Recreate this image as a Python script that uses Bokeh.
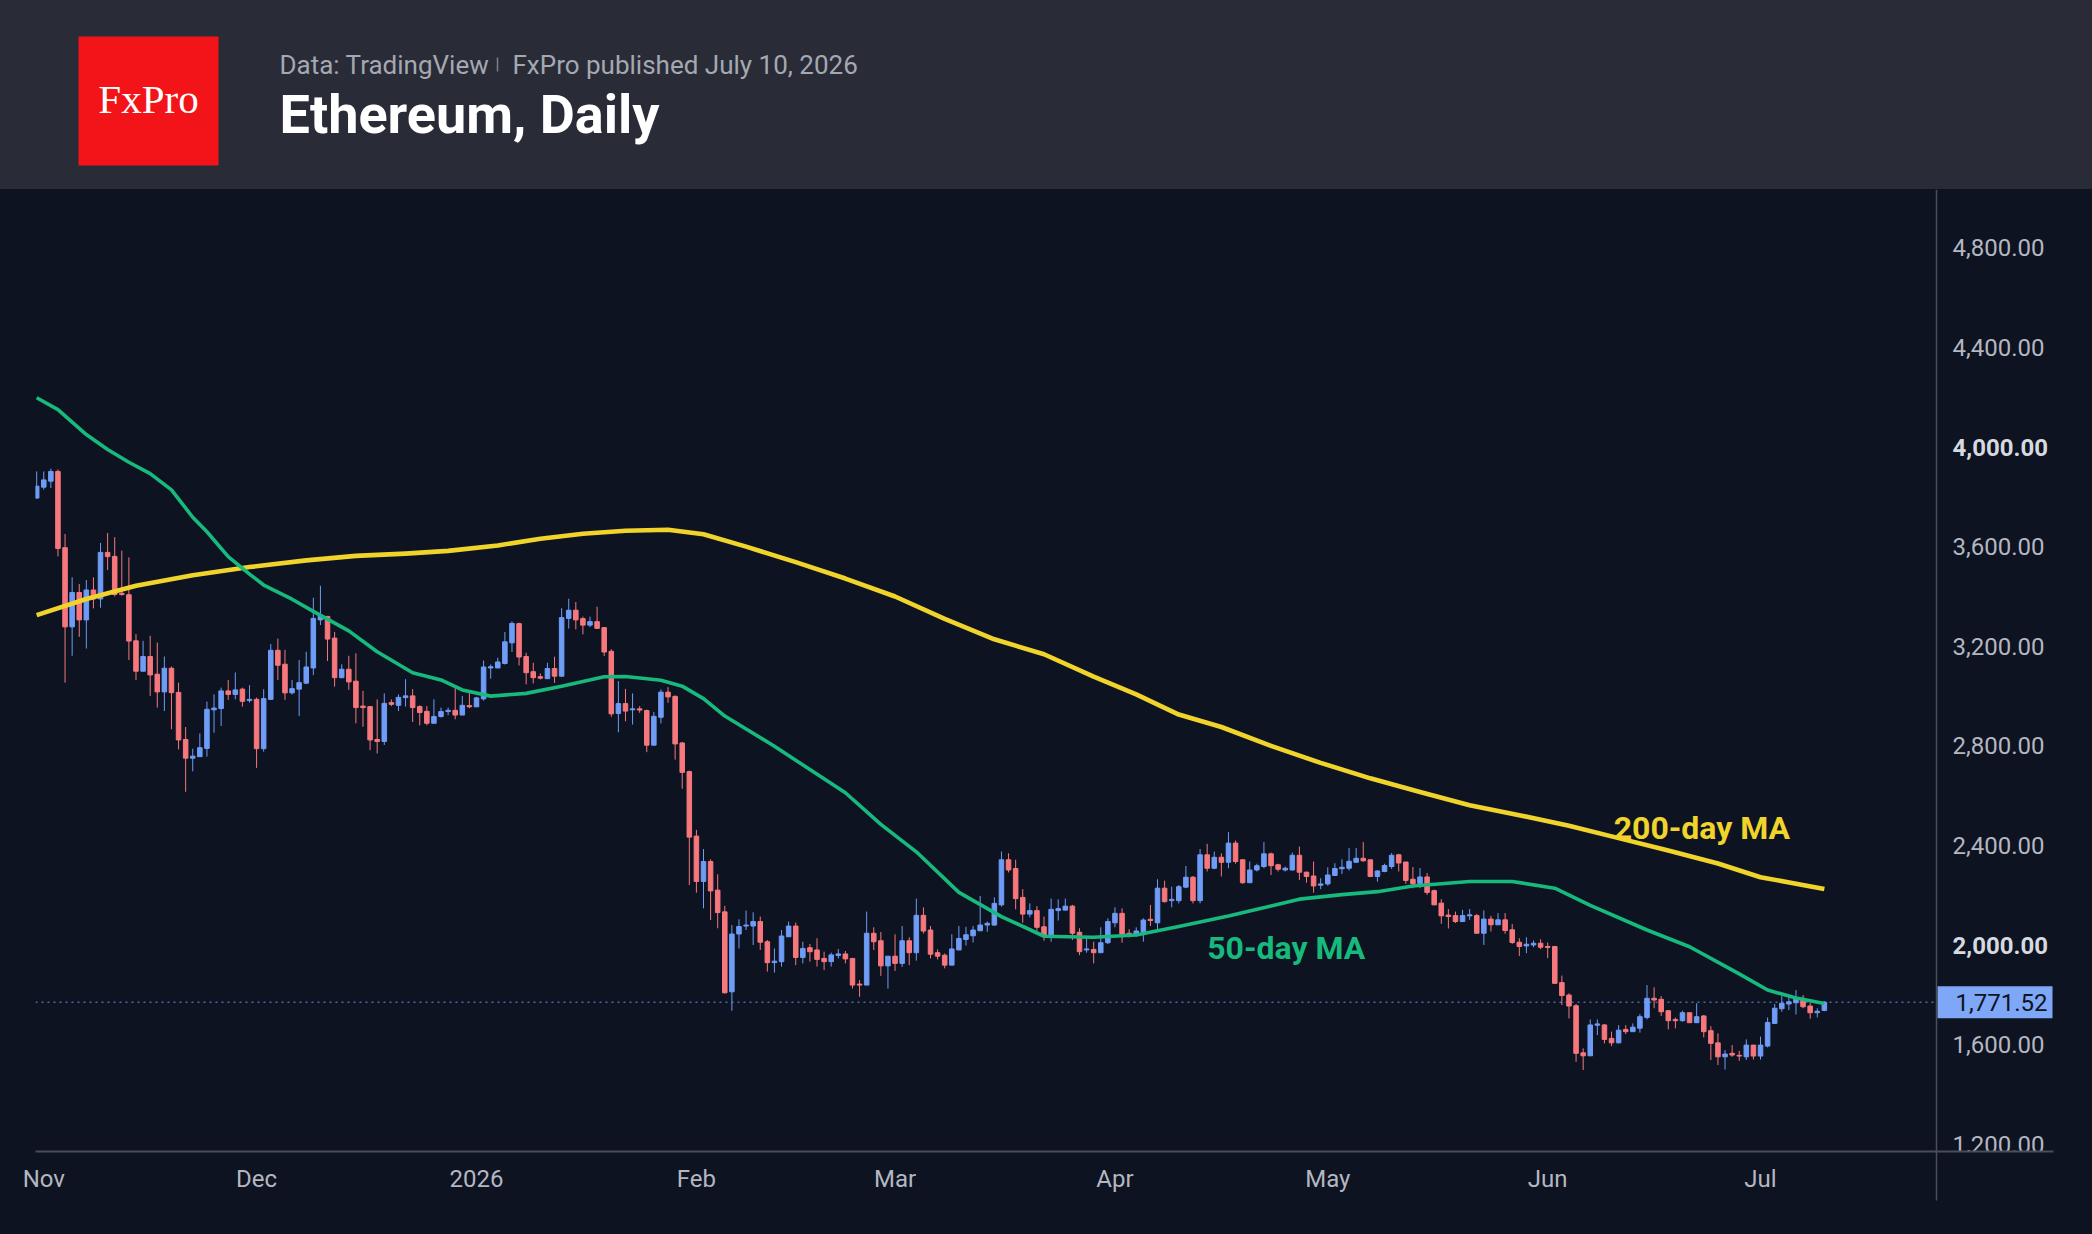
import numpy as np
import pandas as pd
from bokeh.plotting import figure
from bokeh.layouts import column
from bokeh.models import Range1d, FixedTicker, Span, ColumnDataSource
from bokeh.core.properties import value
from bokeh.embed import file_html
from bokeh.resources import INLINE

# ---------------- data ----------------
first_day = "2025-10-31"

opens = [
    3795, 3839, 3863, 3902, 3596, 3278, 3416, 3306, 3426, 3390,
    3577, 3561, 3413, 3407, 3222, 3100, 3159, 3088, 3017, 3112,
    3015, 2826, 2751, 2757, 2790, 2945, 2950, 3021, 3007, 3028,
    2982, 2987, 2789, 2987, 3184, 3128, 3013, 3028, 3052, 3113,
    3306, 3320, 3233, 3074, 3108, 3060, 2960, 2958, 2826, 2818,
    2974, 2963, 2994, 3001, 2958, 2939, 2891, 2918, 2938, 2943,
    2924, 2962,
    2957, 2989, 3113, 3113, 3131, 3214, 3291, 3159, 3098, 3078,
    3070, 3111, 3080, 3312, 3345, 3311, 3285, 3299, 3275, 3180,
    2930, 2970, 2945, 2949, 2942, 2803, 2915, 3016, 2999, 2812,
    2697, 2438, 2256, 2336, 2221, 2134, 1813, 2045, 2077, 2077,
    2095, 2014, 1930, 1934, 2034, 2077, 1951, 1990, 1981, 1947,
    1934, 1959, 1965, 1947, 1844, 1840, 2048,
    2018, 1917, 1956, 1927, 2018, 1970, 2120, 2061, 1970, 1960,
    1920, 1981, 2023, 2038, 2058, 2081, 2081, 2162, 2343, 2308,
    2192, 2125, 2139, 2074, 2037, 2139, 2141, 2157, 2052, 1981,
    1983, 1970, 2010, 2090, 2128, 2048, 2041, 2053, 2104, 2090,
    2229, 2179, 2179, 2233, 2273, 2179, 2363, 2309, 2353, 2333,
    2410, 2343, 2251, 2302, 2316, 2367, 2323, 2302, 2302, 2361,
    2293, 2278, 2241, 2246, 2280, 2307, 2309, 2333, 2349, 2343,
    2276, 2296,
    2316, 2363, 2334, 2265, 2247, 2274, 2219, 2169, 2121, 2119,
    2095, 2118, 2119, 2048, 2105, 2082, 2102, 2062, 2012, 1997,
    2001, 2008, 1995, 1995, 1850, 1800, 1757, 1568, 1556, 1679,
    1680, 1626, 1608, 1662, 1653, 1667, 1710, 1787, 1783, 1737,
    1702, 1697, 1729, 1689, 1716, 1657, 1608, 1552, 1566, 1558,
    1552, 1599, 1555, 1595, 1686, 1745, 1764, 1769, 1787, 1756,
    1729, 1738,
]
highs = [
    3902, 3902, 3913, 3910, 3651, 3477, 3450, 3466, 3477, 3615,
    3655, 3638, 3584, 3557, 3249, 3222, 3242, 3215, 3159, 3119,
    3054, 2876, 2789, 2850, 2978, 3007, 3034, 3065, 3095, 3034,
    3044, 2994, 3028, 3209, 3231, 3186, 3065, 3145, 3178, 3395,
    3443, 3322, 3258, 3128, 3162, 3172, 3021, 2960, 2987, 3011,
    2987, 3007, 3068, 3028, 2963, 2960, 2987, 2954, 2954, 3044,
    3001, 3012,
    2997, 3143, 3127, 3154, 3257, 3300, 3295, 3174, 3134, 3091,
    3134, 3158, 3353, 3391, 3378, 3319, 3319, 3359, 3277, 3188,
    3060, 3029, 3011, 2960, 2946, 2936, 3027, 3036, 3003, 2816,
    2701, 2463, 2386, 2345, 2285, 2158, 2081, 2104, 2139, 2132,
    2115, 2021, 1987, 2061, 2095, 2091, 2014, 2005, 2028, 1974,
    1970, 1985, 1977, 1947, 1860, 2135, 2072,
    2053, 1956, 2044, 2077, 2032, 2187, 2152, 2077, 1983, 1967,
    2044, 2077, 2074, 2077, 2198, 2095, 2192, 2376, 2369, 2343,
    2225, 2168, 2157, 2115, 2187, 2184, 2187, 2162, 2068, 2031,
    2014, 2072, 2108, 2152, 2148, 2064, 2072, 2108, 2162, 2265,
    2259, 2235, 2242, 2318, 2278, 2386, 2407, 2376, 2369, 2454,
    2420, 2345, 2336, 2327, 2414, 2372, 2327, 2316, 2372, 2396,
    2296, 2336, 2269, 2313, 2329, 2345, 2390, 2390, 2414, 2343,
    2302, 2327,
    2370, 2367, 2334, 2314, 2310, 2290, 2223, 2185, 2145, 2135,
    2142, 2145, 2126, 2140, 2118, 2129, 2129, 2085, 2028, 2032,
    2019, 2024, 2011, 1997, 1878, 1807, 1764, 1586, 1702, 1702,
    1684, 1653, 1679, 1679, 1686, 1724, 1840, 1831, 1796, 1740,
    1710, 1737, 1729, 1767, 1720, 1675, 1646, 1579, 1599, 1576,
    1622, 1599, 1633, 1710, 1764, 1796, 1796, 1820, 1800, 1769,
    1747, 1775,
]
lows = [
    3792, 3829, 3835, 3561, 3054, 3162, 3238, 3191, 3352, 3355,
    3506, 3400, 3403, 3145, 3065, 3099, 3001, 2954, 2940, 2867,
    2786, 2616, 2698, 2757, 2757, 2853, 2880, 2985, 2987, 2958,
    2974, 2712, 2777, 2985, 3065, 2985, 3007, 2920, 3048, 3084,
    3285, 3141, 3038, 3072, 3025, 2891, 2877, 2783, 2770, 2804,
    2960, 2940, 2958, 2896, 2883, 2883, 2891, 2914, 2923, 2907,
    2924, 2952,
    2957, 2982, 3070, 3113, 3127, 3177, 3123, 3047, 3051, 3067,
    3070, 3053, 3078, 3271, 3268, 3248, 3277, 3272, 3161, 2917,
    2855, 2899, 2886, 2933, 2775, 2803, 2890, 2973, 2745, 2628,
    2242, 2211, 2148, 2101, 2068, 1806, 1737, 1987, 2061, 2001,
    1981, 1894, 1890, 1914, 2034, 1920, 1927, 1934, 1914, 1900,
    1914, 1947, 1927, 1826, 1793, 1840, 1981,
    1877, 1826, 1897, 1913, 1920, 1938, 2047, 1947, 1943, 1907,
    1920, 1981, 1999, 2011, 2058, 2054, 2078, 2155, 2292, 2144,
    2090, 2112, 2058, 2018, 2014, 2099, 2139, 2021, 1960, 1970,
    1927, 1970, 2005, 2072, 2010, 2031, 2034, 2014, 2077, 2054,
    2171, 2152, 2168, 2229, 2168, 2168, 2296, 2305, 2276, 2309,
    2327, 2246, 2249, 2296, 2309, 2282, 2296, 2296, 2300, 2262,
    2251, 2211, 2225, 2239, 2278, 2286, 2300, 2332, 2335, 2273,
    2255, 2293,
    2306, 2296, 2247, 2229, 2229, 2202, 2162, 2086, 2067, 2089,
    2095, 2102, 2048, 2001, 2055, 2082, 2046, 2005, 1957, 1968,
    1992, 1984, 1948, 1844, 1760, 1706, 1532, 1499, 1556, 1639,
    1606, 1595, 1606, 1643, 1653, 1649, 1702, 1747, 1716, 1662,
    1666, 1693, 1689, 1689, 1630, 1539, 1519, 1501, 1552, 1536,
    1539, 1541, 1541, 1590, 1684, 1733, 1740, 1722, 1747, 1705,
    1710, 1735,
]
closes = [
    3843, 3868, 3902, 3593, 3278, 3416, 3306, 3426, 3390, 3577,
    3560, 3408, 3408, 3221, 3100, 3159, 3085, 3017, 3112, 3014,
    2824, 2751, 2759, 2793, 2947, 2952, 3021, 3007, 3025, 2979,
    2987, 2789, 2990, 3184, 3124, 3013, 3030, 3054, 3117, 3312,
    3322, 3229, 3074, 3108, 3057, 2954, 2954, 2824, 2818, 2971,
    2967, 2995, 3001, 2954, 2934, 2891, 2918, 2938, 2943, 2924,
    2963, 2957,
    2993, 3117, 3118, 3137, 3218, 3292, 3157, 3094, 3074, 3072,
    3111, 3080, 3315, 3345, 3306, 3285, 3299, 3272, 3177, 2929,
    2970, 2940, 2949, 2944, 2803, 2919, 3016, 2997, 2808, 2694,
    2434, 2256, 2336, 2218, 2131, 1809, 2045, 2075, 2081, 2095,
    2012, 1930, 1936, 2037, 2077, 1951, 1987, 1974, 1943, 1934,
    1961, 1965, 1945, 1840, 1840, 2048, 2014,
    1917, 1956, 1927, 2018, 1970, 2120, 2057, 1964, 1956, 1920,
    1985, 2027, 2042, 2061, 2081, 2088, 2168, 2343, 2302, 2187,
    2125, 2139, 2072, 2037, 2144, 2147, 2157, 2048, 1974, 1985,
    1970, 2010, 2095, 2128, 2045, 2041, 2057, 2101, 2099, 2229,
    2175, 2184, 2235, 2273, 2179, 2363, 2309, 2353, 2333, 2410,
    2336, 2251, 2302, 2319, 2367, 2319, 2305, 2309, 2361, 2293,
    2276, 2238, 2246, 2282, 2308, 2313, 2337, 2349, 2339, 2276,
    2298, 2320,
    2361, 2330, 2260, 2247, 2274, 2212, 2162, 2118, 2115, 2095,
    2119, 2122, 2048, 2105, 2082, 2102, 2059, 2011, 1995, 2004,
    2008, 1992, 1991, 1847, 1798, 1756, 1566, 1556, 1680, 1684,
    1622, 1608, 1659, 1653, 1671, 1713, 1787, 1780, 1733, 1697,
    1697, 1729, 1689, 1713, 1653, 1606, 1552, 1563, 1559, 1555,
    1599, 1555, 1599, 1690, 1747, 1767, 1773, 1789, 1753, 1729,
    1735, 1771.52,
]

# moving averages (days counted from 2026-01-01)
ma200_day = [-62, -55, -48, -40, -32, -24, -17, -10, -4, 3, 9, 15, 21, 27, 32, 38, 45, 52,
             59, 66, 73, 80, 87, 93, 99, 105, 112, 119, 126, 133, 140, 147, 154, 161, 168,
             175, 181, 186, 190]
ma200 = [3325, 3390, 3443, 3485, 3518, 3545, 3563, 3572, 3583, 3605, 3632, 3652, 3664, 3668,
         3650, 3600, 3538, 3472, 3400, 3310, 3228, 3168, 3078, 3007, 2926, 2876, 2800, 2732,
         2670, 2615, 2562, 2522, 2480, 2430, 2380, 2328, 2273, 2247, 2226]
ma50_day = [-62, -59, -55, -52, -49, -46, -43, -40, -38, -35, -32, -30, -26, -23, -18, -14,
            -9, -5, -2, 2, 7, 12, 18, 21, 26, 29, 32, 35, 42, 47, 52, 57, 62, 68, 74, 80, 87,
            93, 99, 106, 112, 116, 122, 127, 132, 140, 146, 152, 157, 165, 171, 178, 182, 186,
            190]
ma50 = [4198, 4150, 4050, 3990, 3939, 3893, 3828, 3718, 3660, 3560, 3490, 3446, 3389, 3340,
        3262, 3178, 3094, 3065, 3025, 3000, 3011, 3040, 3078, 3079, 3064, 3040, 2990, 2920,
        2799, 2705, 2612, 2485, 2375, 2212, 2115, 2036, 2032, 2041, 2075, 2117, 2157, 2185,
        2203, 2215, 2238, 2256, 2256, 2229, 2160, 2061, 1994, 1885, 1820, 1788, 1766]

month_ticks = ["2025-11-01", "2025-12-01", "2026-01-01", "2026-02-01", "2026-03-01",
               "2026-04-01", "2026-05-01", "2026-06-01", "2026-07-01"]
month_labels = ["Nov", "Dec", "2026", "Feb", "Mar", "Apr", "May", "Jun", "Jul"]
price_ticks = [1200, 1600, 2000, 2400, 2800, 3200, 3600, 4000, 4400, 4800]
bold_price_ticks = [2000, 4000]
last_price = 1771.52
title_text = "Ethereum, Daily"
source_text = "Data: TradingView"
published_text = "FxPro published July 10, 2026"
logo_text = "FxPro"
ma200_label = "200-day MA"
ma50_label = "50-day MA"

assert len(opens) == len(highs) == len(lows) == len(closes) == 253

# ---------------- style / layout ----------------
BG = "#0d1320"
HEADER_BG = "#292c37"
UP = "#6e9cf6"
DOWN = "#f6787d"
YELLOW = "#f0d42b"
GREEN = "#17b97d"
AXIS_TXT = "#b4b7c0"
AXIS_TXT_STRONG = "#d6d9e0"
AXIS_LINE = "#4a4e59"
FONT = "Roboto"

W = 2092
HEAD_H = 189
FRAME_L = 35
PRICE_SEP = 1936      # price-scale separator (page px)
FRAME_H = 962
BOTTOM_H = 1234 - HEAD_H - FRAME_H
PX_PER_DAY = 7.094
JAN1_PX = 476
PX_PER_PRICE = 0.2491
Y1200_PX = 1144 - HEAD_H  # from frame top
SEP_TAIL = 49             # separator continues below the time axis

jan1 = pd.Timestamp("2026-01-01")
one_day = pd.Timedelta(days=1)


def px_time(px):
    return jan1 + one_day * ((px - JAN1_PX) / PX_PER_DAY)


def ms(ts):
    return float(pd.Timestamp(ts).value // 10**6)


x_start = px_time(FRAME_L)
x_end = px_time(W)
y_end = 1200 + Y1200_PX / PX_PER_PRICE
y_start = 1200 - (FRAME_H - Y1200_PX) / PX_PER_PRICE
px_price = 1 / PX_PER_PRICE

# ---------------- header ----------------
hp = figure(frame_width=W - FRAME_L, frame_height=HEAD_H, x_range=Range1d(FRAME_L, W),
            y_range=Range1d(HEAD_H, 0), x_axis_type=None, y_axis_type=None,
            min_border_left=FRAME_L, min_border_right=0, min_border_top=0, min_border_bottom=0,
            output_backend="svg", toolbar_location=None)
hp.background_fill_color = None
hp.border_fill_color = None
hp.outline_line_color = None
hp.grid.visible = False
hp.quad(left=[78], right=[218], top=[36], bottom=[165], fill_color="#f21418", line_color=None)
hp.text(x=[148], y=[98.5], text=[logo_text], text_font=value("Liberation Serif"),
        text_font_size="41px", text_color="white", text_align="center",
        text_baseline="alphabetic")
hp.text(x=[279], y=[64], text=[source_text], text_font=value(FONT), text_font_size="26px",
        text_color="#a5a8b1", text_baseline="alphabetic")
hp.segment(x0=[497], y0=[57], x1=[497], y1=[71], line_color="#7c7f89", line_width=1.5)
hp.text(x=[512], y=[64], text=[published_text], text_font=value(FONT), text_font_size="26px",
        text_color="#a5a8b1", text_baseline="alphabetic")
hp.text(x=[279], y=[113.5], text=[title_text], text_font=value(FONT), text_font_size="54px",
        text_font_style="bold", text_color="#ffffff", text_baseline="alphabetic")

# ---------------- chart ----------------
dates = pd.date_range(first_day, periods=len(opens), freq="D")
o = np.array(opens, float)
h = np.array(highs, float)
l = np.array(lows, float)
c = np.array(closes, float)
colors = np.where(c >= o, UP, DOWN)
src = ColumnDataSource(dict(x=dates, top=np.maximum(o, c), bottom=np.minimum(o, c),
                            high=h, low=l, color=colors))

p = figure(frame_width=W - FRAME_L, frame_height=FRAME_H, x_axis_type="datetime",
           y_axis_location=None, x_range=Range1d(x_start, x_end),
           y_range=Range1d(y_start, y_end), output_backend="svg", toolbar_location=None,
           min_border_left=FRAME_L, min_border_right=0, min_border_top=0,
           min_border_bottom=BOTTOM_H)
p.background_fill_color = None
p.border_fill_color = None
p.outline_line_color = None
p.grid.grid_line_color = None

sep_ms = ms(px_time(PRICE_SEP))
tick_ms = [int(ms(t)) for t in month_ticks]
# the price-scale separator continues below the time axis: drawn as a long minor tick
p.xaxis.ticker = FixedTicker(ticks=tick_ms, minor_ticks=[sep_ms])
p.xaxis.major_label_overrides = {t: lab for t, lab in zip(tick_ms, month_labels)}
p.xaxis.major_label_text_font = FONT
p.xaxis.major_label_text_font_size = "24px"
p.xaxis.major_label_text_color = AXIS_TXT
p.xaxis.axis_line_color = AXIS_LINE
p.xaxis.axis_line_width = 2
p.xaxis.major_tick_line_color = None
p.xaxis.minor_tick_line_color = AXIS_LINE
p.xaxis.minor_tick_line_width = 1.5
p.xaxis.minor_tick_in = 0
p.xaxis.minor_tick_out = SEP_TAIL
p.xaxis.major_label_standoff = 13 - SEP_TAIL
p.xaxis.bounds = (ms(x_start), ms(px_time(2053)))

# price scale separator
p.add_layout(Span(location=sep_ms, dimension="height", line_color=AXIS_LINE, line_width=1.5))

# last price dotted line
p.line(x=[x_start, px_time(PRICE_SEP)], y=[last_price, last_price], line_color="#4f6aa8",
       line_dash="2 4", line_width=1.5)

# candles
p.segment(x0="x", y0="high", x1="x", y1="low", line_color="color", line_width=1, source=src)
p.vbar(x="x", width=0.64 * 86400000, top="top", bottom="bottom", fill_color="color",
       line_color="color", line_width=1, source=src)

# moving averages
ma200_x = [jan1 + one_day * d for d in ma200_day]
ma50_x = [jan1 + one_day * d for d in ma50_day]
p.line(ma200_x, ma200, line_color=YELLOW, line_width=4.6, line_join="round")
p.line(ma50_x, ma50, line_color=GREEN, line_width=3.6, line_join="round")

p.text(x=[jan1 + one_day * 160.3], y=[2469], text=[ma200_label], text_font=value(FONT),
       text_font_size="32px", text_font_style="bold", text_color=YELLOW,
       text_baseline="alphabetic")
p.text(x=[jan1 + one_day * 103], y=[1987], text=[ma50_label], text_font=value(FONT),
       text_font_size="32px", text_font_style="bold", text_color=GREEN,
       text_baseline="alphabetic")

# price scale labels
label_x = px_time(1952)
reg = [t for t in price_ticks if t not in bold_price_ticks]
p.text(x=[label_x] * len(reg), y=reg, text=[f"{t:,.2f}" for t in reg],
       text_font=value(FONT), text_font_size="24px", text_color=AXIS_TXT,
       text_baseline="alphabetic")
p.text(x=[label_x] * len(bold_price_ticks), y=bold_price_ticks,
       text=[f"{t:,.2f}" for t in bold_price_ticks], text_font=value(FONT),
       text_font_size="24px", text_font_style="bold", text_color=AXIS_TXT_STRONG,
       text_baseline="alphabetic")

# last price tag
p.quad(left=[px_time(PRICE_SEP + 1)], right=[px_time(2052)],
       top=[last_price + 16 * px_price], bottom=[last_price - 16 * px_price],
       fill_color="#7fa7f8", line_color=None)
p.text(x=[px_time(1955)], y=[last_price], text=[f"{last_price:,.2f}"], text_font=value(FONT),
       text_font_size="24px", text_color="#0d1320", text_baseline="alphabetic")

bg_css = (f"linear-gradient(to bottom, {HEADER_BG} 0px, {HEADER_BG} {HEAD_H}px, "
          f"{BG} {HEAD_H}px, {BG} 100%)")
layout = column(hp, p, spacing=0, styles={"background": bg_css})
open("out.html", "w").write(file_html(layout, INLINE))
